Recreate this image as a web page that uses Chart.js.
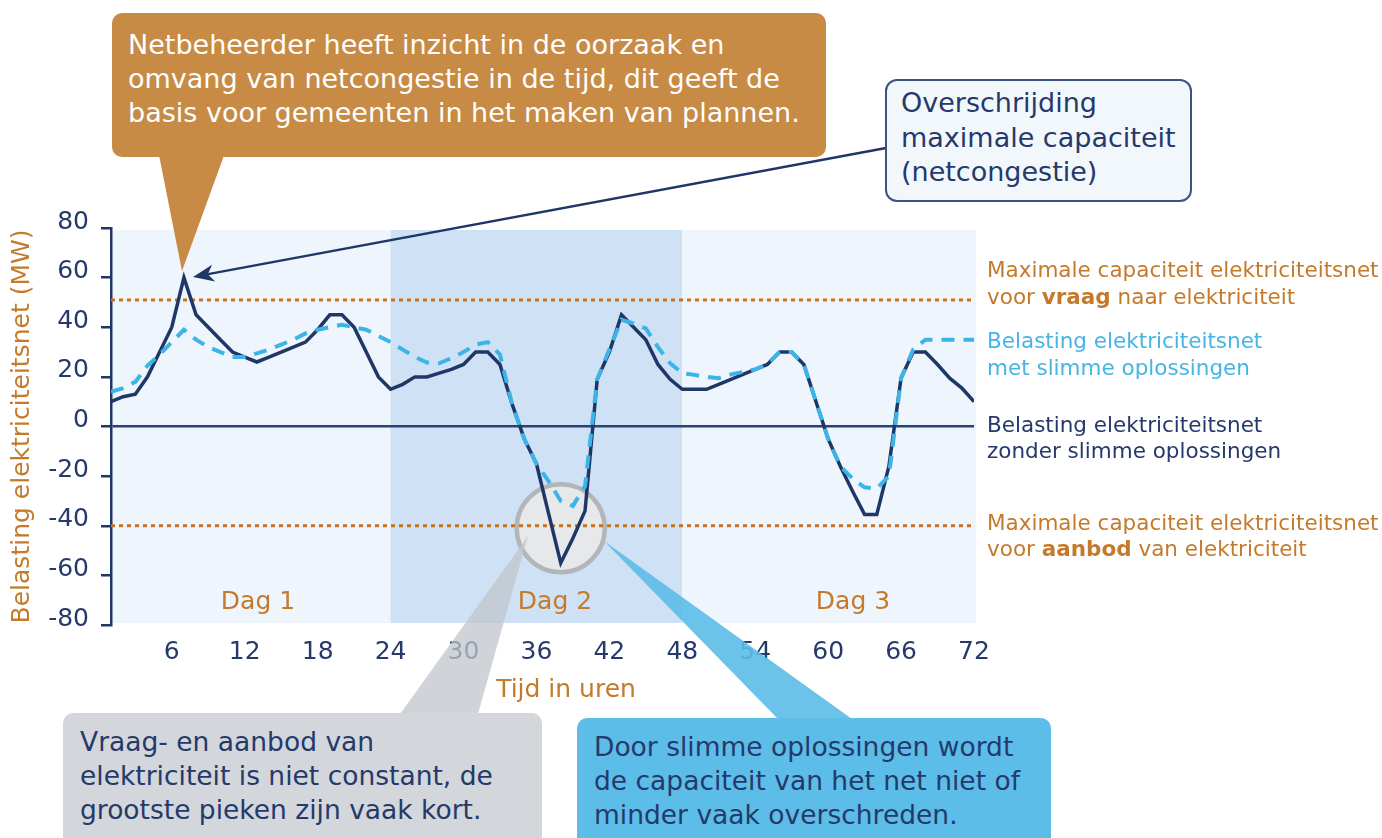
<!DOCTYPE html>
<html>
<head>
<meta charset="utf-8">
<script src="https://cdn.jsdelivr.net/npm/chart.js@4.4.1/dist/chart.umd.min.js"></script>
<style>
html,body{margin:0;padding:0;background:#fff;}
#wrap{position:relative;width:1382px;height:838px;overflow:hidden;font-family:"DejaVu Sans",sans-serif;}
#c{position:absolute;left:0;top:0;}
.box{position:absolute;box-sizing:border-box;border-radius:10px;font-size:26.5px;line-height:34px;white-space:nowrap;}
.lbl{position:absolute;left:987px;font-size:21.5px;line-height:27px;white-space:nowrap;}
.dag{position:absolute;font-size:25px;color:#c47a2a;transform:translate(-50%,-50%);white-space:nowrap;}
.xt{position:absolute;font-size:25px;color:#c47a2a;transform:translate(-50%,-50%);white-space:nowrap;}
</style>
</head>
<body>
<div id="wrap">
<canvas id="c" width="1382" height="838"></canvas>

<div class="box" style="left:112px;top:13px;width:714px;height:144px;background:#c78b46;color:#fff;padding:15px 0 0 16px;font-size:27px;">Netbeheerder heeft inzicht in de oorzaak en<br>omvang van netcongestie in de tijd, dit geeft de<br>basis voor gemeenten in het maken van plannen.</div>

<div class="box" style="left:885px;top:79px;width:307px;height:123px;background:#f2f7fc;border:2px solid #3c5280;border-radius:12px;color:#25396b;padding:5px 0 0 14px;line-height:34.5px;font-size:27px;">Overschrijding<br>maximale capaciteit<br>(netcongestie)</div>

<div class="box" style="left:63px;top:713px;width:479px;height:140px;background:#d3d6da;color:#25396b;padding:12px 0 0 17px;">Vraag- en aanbod van<br>elektriciteit is niet constant, de<br>grootste pieken zijn vaak kort.</div>

<div class="box" style="left:577px;top:718px;width:474px;height:135px;background:#5cbde8;color:#25396b;padding:12px 0 0 17px;">Door slimme oplossingen wordt<br>de capaciteit van het net niet of<br>minder vaak overschreden.</div>

<div class="lbl" style="top:256px;color:#c47a2a;">Maximale capaciteit elektriciteitsnet<br>voor <b>vraag</b> naar elektriciteit</div>
<div class="lbl" style="top:327px;color:#45b5e6;">Belasting elektriciteitsnet<br>met slimme oplossingen</div>
<div class="lbl" style="top:412px;color:#25396b;line-height:26px;">Belasting elektriciteitsnet<br>zonder slimme oplossingen</div>
<div class="lbl" style="top:510px;color:#c47a2a;line-height:26px;">Maximale capaciteit elektriciteitsnet<br>voor <b>aanbod</b> van elektriciteit</div>

<div class="dag" style="left:258px;top:600px;">Dag 1</div>
<div class="dag" style="left:555px;top:600px;">Dag 2</div>
<div class="dag" style="left:853px;top:600px;">Dag 3</div>
<div class="xt" style="left:566px;top:688px;">Tijd in uren</div>
</div>

<script>
// ---- data ----
const hours = [1,2,3,4,5,6,7,8,9,10,11,12,13,14,15,16,17,18,19,20,21,22,23,24,
  25,26,27,28,29,30,31,32,33,34,35,36,37,38,39,40,41,42,43,44,45,46,47,48,
  49,50,51,52,53,54,55,56,57,58,59,60,61,62,63,64,65,66,67,68,69,70,71,72];

// Belasting elektriciteitsnet zonder slimme oplossingen (MW)
const loadWithout = [10,12,13,20,30,40,60,45,40,35,30,28,26,28,30,32,34,39,45,45,40,30,20,15,
  17,20,20,21.5,23,25,30,30,25,9,-5,-15,-35,-55,-45,-34,19,30,45,40,35,25,19,15,
  15,15,17,19,21,23,25,30,30,25,10,-5,-16,-26,-35.5,-35.5,-16,19.5,30,30,25,19.5,15.5,10];

// Belasting elektriciteitsnet met slimme oplossingen (MW)
const loadWith = [14,15.5,18,24.5,29,34,39,35,32,30,28,28,29.5,31,33,35,37.5,39,40,41,40,39,36.5,34,
  31,28,25.8,25.5,27.5,30,33,34,29,9,-5,-15,-22,-30,-32,-24,19,31,43,41.5,39.5,32,25.5,21.5,
  20.8,20,19.5,21,22,23,25,30,30,25,10,-5,-16,-21,-24.5,-25,-20,19.5,31,35,35,35,35,35];

const capacityDemand = 51;   // maximale capaciteit voor vraag
const capacitySupply = -40;  // maximale capaciteit voor aanbod
const capacitySpan = [1, 72];

const xTicks = [6,12,18,24,30,36,42,48,54,60,66,72];
const yTicks = [-80,-60,-40,-20,0,20,40,60,80];
const dayEdges = [1,24,48,72];
const focusPoint = {x:38, y:-41};

// ---- styles ----
const NAVY = '#1f3767';
const NAVY_TXT = '#25396b';
const ORANGE = '#c5731c';
const ORANGE_TXT = '#c47a2a';
const SKY = '#3db4e7';
const dayColors = ['#eff5fd','#cfe1f5','#eff5fd'];
const FONT = '"DejaVu Sans", sans-serif';

const toXY = (xs, ys) => xs.map((h,i)=>({x:h, y:ys[i]}));

const annot = {
  id:'annot',
  beforeDraw(chart){
    const {ctx, scales:{x,y}} = chart;
    const top = y.getPixelForValue(80)+2, bot = y.getPixelForValue(-80)-2;
    ctx.save();
    for(let i=0;i<dayEdges.length-1;i++){
      const x0 = x.getPixelForValue(dayEdges[i]);
      const x1 = x.getPixelForValue(dayEdges[i+1]) + (i===dayEdges.length-2 ? 2 : 0);
      ctx.fillStyle = dayColors[i];
      ctx.fillRect(x0, top, x1-x0, bot-top);
    }
    ctx.restore();
  },
  beforeDatasetsDraw(chart){
    const {ctx, scales:{x,y}} = chart;
    const cx = x.getPixelForValue(focusPoint.x), cy = y.getPixelForValue(focusPoint.y);
    ctx.save();
    ctx.beginPath();
    ctx.arc(cx, cy, 44, 0, Math.PI*2);
    ctx.fillStyle = '#e7e8ea';
    ctx.fill();
    ctx.lineWidth = 4.5;
    ctx.strokeStyle = '#b3b6b9';
    ctx.stroke();
    ctx.restore();
  },
  afterDraw(chart){
    const {ctx} = chart;
    ctx.save();
    // grey pointer
    ctx.fillStyle = 'rgba(192,197,203,0.75)';
    ctx.beginPath();
    ctx.moveTo(528,536); ctx.lineTo(478,714); ctx.lineTo(400,714); ctx.closePath(); ctx.fill();
    // blue pointer
    ctx.fillStyle = 'rgba(92,189,232,0.9)';
    ctx.beginPath();
    ctx.moveTo(604,541); ctx.lineTo(852,719); ctx.lineTo(778,719); ctx.closePath(); ctx.fill();
    // orange pointer
    ctx.fillStyle = '#c78b46';
    ctx.beginPath();
    ctx.moveTo(158,150); ctx.lineTo(226,150); ctx.lineTo(182,271); ctx.closePath(); ctx.fill();
    // arrow
    const sx=886, sy=148, tx=193, ty=277;
    const ang = Math.atan2(ty-sy, tx-sx);
    const c = Math.cos(ang), s = Math.sin(ang);
    ctx.strokeStyle = NAVY; ctx.lineWidth = 2.4;
    ctx.beginPath();
    ctx.moveTo(sx,sy);
    ctx.lineTo(tx - c*14, ty - s*14);
    ctx.stroke();
    ctx.fillStyle = NAVY;
    ctx.beginPath();
    ctx.moveTo(tx,ty);
    ctx.lineTo(tx - c*21 + s*8.5, ty - s*21 - c*8.5);
    ctx.lineTo(tx - c*15, ty - s*15);
    ctx.lineTo(tx - c*21 - s*8.5, ty - s*21 + c*8.5);
    ctx.closePath(); ctx.fill();
    ctx.restore();
  }
};

new Chart(document.getElementById('c'), {
  type:'line',
  data:{
    datasets:[
      {label:'Belasting elektriciteitsnet met slimme oplossingen', data:toXY(hours, loadWith),
        borderColor:SKY, borderWidth:4, borderDash:[13,9], borderCapStyle:'butt', pointRadius:0, tension:0, order:0},
      {label:'Belasting elektriciteitsnet zonder slimme oplossingen', data:toXY(hours, loadWithout),
        borderColor:NAVY, borderWidth:3.5, pointRadius:0, tension:0, borderJoinStyle:'miter', order:1},
      {label:'Maximale capaciteit voor vraag', data:toXY(capacitySpan, [capacityDemand,capacityDemand]),
        borderColor:ORANGE, borderWidth:3, borderDash:[4,4], borderCapStyle:'butt', pointRadius:0, order:2},
      {label:'Maximale capaciteit voor aanbod', data:toXY(capacitySpan, [capacitySupply,capacitySupply]),
        borderColor:ORANGE, borderWidth:3, borderDash:[4,4], borderCapStyle:'butt', pointRadius:0, order:2}
    ]
  },
  options:{
    responsive:false,
    devicePixelRatio:1,
    animation:false,
    events:[],
    layout:{padding:{left:0, right:408, top:228, bottom:0}},
    plugins:{legend:{display:false}, tooltip:{enabled:false}},
    scales:{
      x:{
        type:'linear', min:1, max:72,
        afterBuildTicks:(s)=>{ s.ticks = xTicks.map(v=>({value:v})); },
        afterFit:(s)=>{ s.height = 213; },
        grid:{display:false}, border:{display:false},
        ticks:{color:NAVY_TXT, font:{family:FONT, size:25}, padding:4, maxRotation:0, autoSkip:false},
        title:{display:false, text:'Tijd in uren'}
      },
      y:{
        type:'linear', min:-80, max:80,
        afterBuildTicks:(s)=>{ s.ticks = yTicks.map(v=>({value:v})); },
        afterFit:(s)=>{ s.width = 111; },
        grid:{
          color:(c)=> (c.tick && c.tick.value===0) ? '#2b4272' : 'rgba(0,0,0,0)',
          lineWidth:2.5, drawTicks:true, tickLength:10, tickColor:NAVY, tickWidth:2.5
        },
        border:{display:true, color:NAVY, width:2.5},
        ticks:{color:NAVY_TXT, font:{family:FONT, size:25}, padding:12, labelOffset:-6, autoSkip:false},
        title:{display:true, text:'Belasting elektriciteitsnet (MW)', color:ORANGE_TXT, font:{family:FONT, size:25}, padding:{top:7, bottom:0}}
      }
    }
  },
  plugins:[annot]
});
</script>
</body>
</html>
